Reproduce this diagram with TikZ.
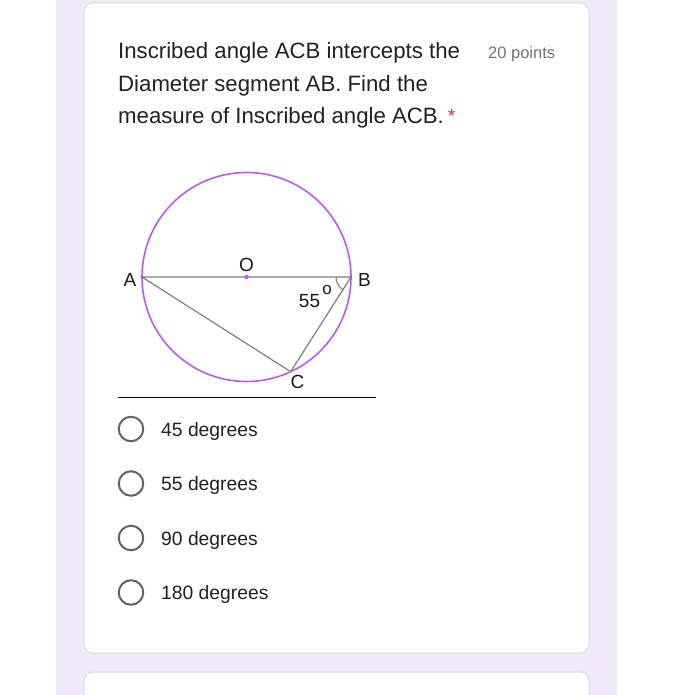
\documentclass[tikz,border=0pt]{standalone}
\usepackage{fontspec}
\setmainfont{Liberation Sans}
\usetikzlibrary{calc}
\definecolor{lav}{RGB}{240,235,248}
\definecolor{cardline}{RGB}{218,220,224}
\definecolor{circ}{RGB}{190,90,235}
\definecolor{segc}{RGB}{128,128,128}
\definecolor{radio}{RGB}{95,99,104}
\definecolor{txt}{RGB}{32,33,36}
\definecolor{ptsc}{RGB}{112,117,122}
\definecolor{star}{RGB}{217,48,37}
\tikzset{
  qtext/.style={anchor=base west,inner sep=0pt,text=txt,font=\fontsize{22.2}{26}\selectfont},
  opttext/.style={anchor=base west,inner sep=0pt,text=txt,font=\fontsize{19.3}{23}\selectfont},
  radiobtn/.style={circle,draw=radio,line width=2pt,minimum size=24.5pt,inner sep=0pt},
  lbl/.style={inner sep=0pt,text=black!90,font=\fontsize{19}{22}\selectfont},
  seg/.style={draw=segc,line width=1.2pt},
}
\begin{document}
\begin{tikzpicture}[x=1pt,y=-1pt]
\useasboundingbox (0,0) rectangle (696,695);
\clip (0,0) rectangle (696,695);
\fill[white] (0,0) rectangle (696,695);
\fill[lav] (56,0) rectangle (617,695);
\draw[cardline,fill=white,rounded corners=9pt,line width=1pt] (84,3) rectangle (589,653);
\draw[cardline,fill=white,rounded corners=9pt,line width=1pt] (84,672) rectangle (589,720);
% question
\node[qtext] (q1) at (118,59) {Inscribed angle ACB intercepts the};
\node[qtext] (q2) at (118,91.5) {Diameter segment AB. Find the};
\node[qtext] (q3) at (118,124) {measure of Inscribed angle ACB.\hspace{4pt}\textcolor{star}{\fontsize{19}{22}\selectfont\raisebox{1pt}{*}}};
\node[anchor=base west,inner sep=0pt,text=ptsc,font=\fontsize{16.5}{19}\selectfont] (pts) at (488,59) {20 points};
% circle diagram
\coordinate (O) at (246.5,277);
\coordinate (A) at (142,277);
\coordinate (B) at (351,277);
\coordinate (C) at ($(O)+(65:104.5)$);
\draw[circ,line width=1.6pt] (O) circle (104.5);
\draw[seg] (A) -- (B) -- (C) -- cycle;
\fill[circ] (O) circle (2.2);
\draw[segc,line width=1.1pt] ($(B)+(180:15)$) arc[start angle=180,end angle=123,radius=15];
\node[lbl] (la) at (130,280) {A};
\node[lbl] (lo) at (246.5,265) {O};
\node[lbl] (lb) at (364.5,280) {B};
\node[lbl] (lc) at (297.5,382) {C};
\node[lbl] (l55) at (309.5,301) {55};
\node[lbl,font=\fontsize{17}{19}\selectfont] (ldeg) at (327,290.5) {o};
\draw[black,line width=1pt] (118,397) -- (376,397);
% options
\node[radiobtn] (r1) at (131,429) {};
\node[radiobtn] (r2) at (131,483.5) {};
\node[radiobtn] (r3) at (131,538) {};
\node[radiobtn] (r4) at (131,592.5) {};
\node[opttext] (o1) at (161,436) {45 degrees};
\node[opttext] (o2) at (161,490.5) {55 degrees};
\node[opttext] (o3) at (161,545) {90 degrees};
\node[opttext] (o4) at (161,599.5) {180 degrees};
\end{tikzpicture}
\end{document}
